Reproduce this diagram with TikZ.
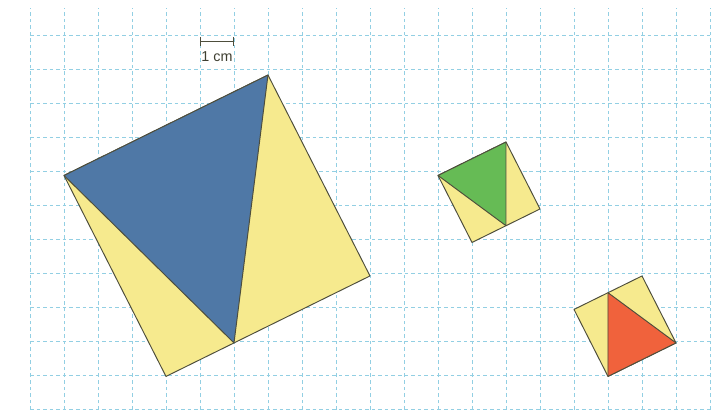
\documentclass[tikz,border=0pt]{standalone}
\usepackage{fontspec}
\setsansfont{Liberation Sans}
\usepackage{tikz}
\definecolor{gridblue}{HTML}{92CFE3}
\definecolor{edgegray}{HTML}{4E4E3C}
\definecolor{sqyellow}{HTML}{F6EA8E}
\definecolor{triblue}{HTML}{4F78A6}
\definecolor{trigreen}{HTML}{66BB55}
\definecolor{trired}{HTML}{F0623C}
\tikzstyle{gridline}=[gridblue, line width=0.8pt, dash pattern=on 3pt off 2.5pt]
\tikzstyle{sq}=[draw=edgegray, fill=sqyellow, line width=0.8pt, line join=round]
\tikzstyle{tri}=[draw=edgegray, line width=0.8pt, line join=round]
\tikzstyle{bar}=[edgegray, line width=1pt]

\begin{document}
\begin{tikzpicture}[x=1cm, y=0.985cm]
\useasboundingbox (-0.882,-0.03) rectangle (20.265,12.24);
\draw[gridline] (0,0) grid (20,12);
% scale bar
\coordinate (s1) at (5,11);
\coordinate (s2) at (6,11);
\draw[bar, |-|] (s1)--(s2);
\node at (5.5,10.56) [font=\sffamily\large, text=edgegray!80!black](cm){1 cm};
% big square
\coordinate (a1) at (1,7);
\coordinate (a2) at (7,10);
\coordinate (a3) at (10,4);
\coordinate (a4) at (4,1);
\coordinate (a5) at (6,2);
\draw[sq] (a1)--(a2)--(a3)--(a4)--cycle;
\draw[tri, fill=triblue] (a1)--(a2)--(a5)--cycle;
% green square
\coordinate (b1) at (12,7);
\coordinate (b2) at (14,8);
\coordinate (b3) at (15,6);
\coordinate (b4) at (13,5);
\coordinate (b5) at (14,5.5);
\draw[sq] (b1)--(b2)--(b3)--(b4)--cycle;
\draw[tri, fill=trigreen] (b1)--(b2)--(b5)--cycle;
% red square
\coordinate (c1) at (16,3);
\coordinate (c2) at (18,4);
\coordinate (c3) at (19,2);
\coordinate (c4) at (17,1);
\coordinate (c5) at (17,3.5);
\draw[sq] (c1)--(c2)--(c3)--(c4)--cycle;
\draw[tri, fill=trired] (c5)--(c3)--(c4)--cycle;
\end{tikzpicture}
\end{document}
